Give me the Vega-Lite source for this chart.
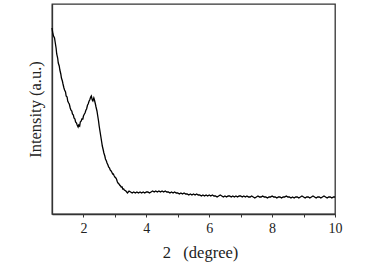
{
  "$schema": "https://vega.github.io/schema/vega-lite/v6.json",
  "width": 283,
  "height": 210,
  "autosize": {"type": "none"},
  "padding": {"left": 52, "top": 4, "right": 38, "bottom": 54},
  "background": "white",
  "config": {
    "font": "Liberation Serif",
    "view": {"stroke": "#333333", "strokeWidth": 1.3},
    "axis": {"labelFont": "Liberation Serif", "titleFont": "Liberation Serif"}
  },
  "data": {"values": [
    {"x":1.00,"y":186},{"x":1.03,"y":180},{"x":1.05,"y":178},{"x":1.08,"y":176},{"x":1.10,"y":172},{"x":1.13,"y":166},{"x":1.15,"y":160},{"x":1.18,"y":156},{"x":1.20,"y":151},{"x":1.23,"y":148},{"x":1.25,"y":144},{"x":1.28,"y":140},{"x":1.30,"y":136},{"x":1.33,"y":133},{"x":1.35,"y":130},{"x":1.38,"y":126},{"x":1.40,"y":124},{"x":1.43,"y":122},{"x":1.45,"y":118},{"x":1.48,"y":117},{"x":1.50,"y":113},{"x":1.53,"y":111},{"x":1.55,"y":110},{"x":1.58,"y":106},{"x":1.60,"y":104},{"x":1.63,"y":103},{"x":1.65,"y":100},{"x":1.68,"y":99},{"x":1.70,"y":96},{"x":1.73,"y":95},{"x":1.75,"y":92},{"x":1.78,"y":91},{"x":1.80,"y":89},{"x":1.83,"y":87},{"x":1.85,"y":89},{"x":1.88,"y":88},{"x":1.90,"y":92},{"x":1.93,"y":93},{"x":1.95,"y":95},{"x":1.98,"y":95},{"x":2.00,"y":98},{"x":2.03,"y":100},{"x":2.05,"y":101},{"x":2.08,"y":104},{"x":2.10,"y":105},{"x":2.13,"y":109},{"x":2.15,"y":110},{"x":2.18,"y":113},{"x":2.20,"y":114},{"x":2.23,"y":117},{"x":2.25,"y":118},{"x":2.28,"y":114},{"x":2.30,"y":113},{"x":2.33,"y":116},{"x":2.35,"y":114},{"x":2.38,"y":110},{"x":2.40,"y":107},{"x":2.43,"y":103},{"x":2.45,"y":99},{"x":2.48,"y":93},{"x":2.50,"y":88},{"x":2.53,"y":82},{"x":2.55,"y":78},{"x":2.58,"y":72},{"x":2.60,"y":68},{"x":2.63,"y":64},{"x":2.65,"y":61},{"x":2.68,"y":58},{"x":2.70,"y":55},{"x":2.73,"y":53},{"x":2.75,"y":51},{"x":2.78,"y":49},{"x":2.80,"y":47},{"x":2.83,"y":46},{"x":2.85,"y":44},{"x":2.88,"y":43},{"x":2.90,"y":42},{"x":2.93,"y":40},{"x":2.95,"y":40},{"x":2.98,"y":38},{"x":3.00,"y":37},{"x":3.03,"y":36},{"x":3.05,"y":35},{"x":3.08,"y":32},{"x":3.10,"y":31},{"x":3.13,"y":30},{"x":3.15,"y":29},{"x":3.18,"y":28},{"x":3.20,"y":27},{"x":3.23,"y":27},{"x":3.25,"y":25},{"x":3.28,"y":25},{"x":3.30,"y":24},{"x":3.35,"y":23},{"x":3.40,"y":21},{"x":3.45,"y":23},{"x":3.50,"y":22},{"x":3.55,"y":21},{"x":3.60,"y":22},{"x":3.65,"y":21},{"x":3.70,"y":22},{"x":3.75,"y":21},{"x":3.80,"y":22},{"x":3.85,"y":21},{"x":3.90,"y":22},{"x":3.95,"y":21},{"x":4.00,"y":22},{"x":4.05,"y":22},{"x":4.10,"y":21},{"x":4.15,"y":22},{"x":4.20,"y":23},{"x":4.25,"y":22},{"x":4.30,"y":23},{"x":4.35,"y":22},{"x":4.40,"y":23},{"x":4.45,"y":22},{"x":4.50,"y":23},{"x":4.55,"y":22},{"x":4.60,"y":23},{"x":4.65,"y":22},{"x":4.70,"y":22},{"x":4.75,"y":21},{"x":4.80,"y":22},{"x":4.85,"y":21},{"x":4.90,"y":22},{"x":4.95,"y":21},{"x":5.00,"y":21},{"x":5.05,"y":20},{"x":5.10,"y":21},{"x":5.15,"y":20},{"x":5.20,"y":21},{"x":5.25,"y":20},{"x":5.30,"y":20},{"x":5.35,"y":19},{"x":5.40,"y":20},{"x":5.45,"y":19},{"x":5.50,"y":20},{"x":5.55,"y":19},{"x":5.60,"y":20},{"x":5.65,"y":19},{"x":5.70,"y":19},{"x":5.75,"y":18},{"x":5.80,"y":19},{"x":5.85,"y":18},{"x":5.90,"y":19},{"x":5.95,"y":18},{"x":6.00,"y":19},{"x":6.05,"y":18},{"x":6.10,"y":19},{"x":6.15,"y":18},{"x":6.20,"y":18},{"x":6.25,"y":17},{"x":6.30,"y":18},{"x":6.35,"y":19},{"x":6.40,"y":18},{"x":6.45,"y":17},{"x":6.50,"y":18},{"x":6.55,"y":17},{"x":6.60,"y":18},{"x":6.65,"y":18},{"x":6.70,"y":17},{"x":6.75,"y":18},{"x":6.80,"y":17},{"x":6.85,"y":18},{"x":6.90,"y":17},{"x":6.95,"y":18},{"x":7.00,"y":18},{"x":7.05,"y":17},{"x":7.10,"y":18},{"x":7.15,"y":17},{"x":7.20,"y":18},{"x":7.25,"y":17},{"x":7.30,"y":17},{"x":7.35,"y":18},{"x":7.40,"y":17},{"x":7.45,"y":16},{"x":7.50,"y":17},{"x":7.55,"y":18},{"x":7.60,"y":17},{"x":7.65,"y":17},{"x":7.70,"y":18},{"x":7.75,"y":17},{"x":7.80,"y":17},{"x":7.85,"y":16},{"x":7.90,"y":17},{"x":7.95,"y":17},{"x":8.00,"y":18},{"x":8.05,"y":17},{"x":8.10,"y":17},{"x":8.15,"y":16},{"x":8.20,"y":17},{"x":8.25,"y":17},{"x":8.30,"y":16},{"x":8.35,"y":17},{"x":8.40,"y":17},{"x":8.45,"y":18},{"x":8.50,"y":17},{"x":8.55,"y":17},{"x":8.60,"y":16},{"x":8.65,"y":17},{"x":8.70,"y":16},{"x":8.75,"y":17},{"x":8.80,"y":17},{"x":8.85,"y":16},{"x":8.90,"y":17},{"x":8.95,"y":18},{"x":9.00,"y":17},{"x":9.05,"y":16},{"x":9.10,"y":17},{"x":9.15,"y":17},{"x":9.20,"y":16},{"x":9.25,"y":17},{"x":9.30,"y":18},{"x":9.35,"y":17},{"x":9.40,"y":16},{"x":9.45,"y":17},{"x":9.50,"y":17},{"x":9.55,"y":16},{"x":9.60,"y":17},{"x":9.65,"y":18},{"x":9.70,"y":17},{"x":9.75,"y":16},{"x":9.80,"y":17},{"x":9.85,"y":17},{"x":9.90,"y":16},{"x":9.95,"y":17},{"x":10.00,"y":17}
  ]},
  "mark": {"type": "line", "color": "black", "strokeWidth": 1.3, "interpolate": "linear"},
  "encoding": {
    "x": {
      "field": "x", "type": "quantitative",
      "scale": {"domain": [1, 10], "nice": false, "zero": false},
      "axis": {
        "title": "2\u00a0\u00a0\u00a0(degree)",
        "titleX": 148,
        "values": [2, 3, 4, 5, 6, 7, 8, 9, 10],
        "labelExpr": "datum.value % 2 == 0 ? datum.label : ''",
        "grid": false,
        "domainColor": "#333333",
        "domainWidth": 1.3,
        "tickColor": "#333333",
        "tickSize": 3,
        "labelFontSize": 14,
        "labelColor": "#222222",
        "labelPadding": 4,
        "labelFlush": false,
        "titleFontSize": 16.5,
        "titleFontWeight": "normal",
        "titleColor": "#222222",
        "titlePadding": 9
      }
    },
    "y": {
      "field": "y", "type": "quantitative",
      "scale": {"domain": [0, 210], "nice": false},
      "axis": {
        "title": "Intensity (a.u.)",
        "labels": false,
        "ticks": false,
        "grid": false,
        "domainColor": "#333333",
        "domainWidth": 1.3,
        "titleFontSize": 16.5,
        "titleFontWeight": "normal",
        "titleColor": "#222222",
        "titlePadding": 9
      }
    }
  }
}
